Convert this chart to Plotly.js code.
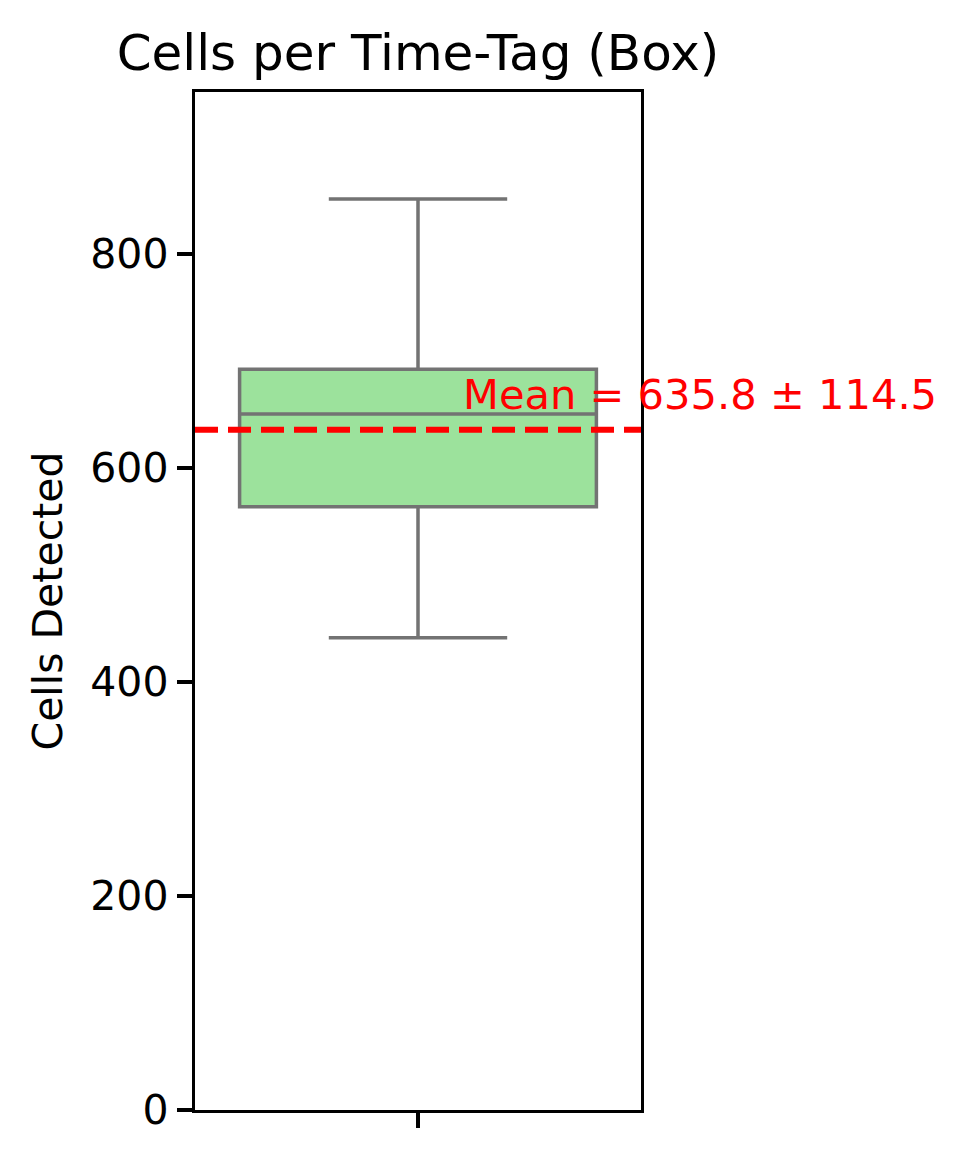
<!DOCTYPE html>
<html>
<head>
<meta charset="utf-8">
<script src="https://cdn.plot.ly/plotly-3.0.1.min.js"></script>
<style>
  html, body { margin: 0; padding: 0; background: #ffffff; }
  #chart { width: 968px; height: 1165px; }
</style>
</head>
<body>
<div id="chart"></div>
<script>
// ---- data ----
const categories = [0];            // single unnamed group
const q1Values = [563.8];
const medianValues = [650.5];
const q3Values = [692.2];
const lowerWhisker = [441.4];
const upperWhisker = [851.4];
const meanValue = 635.8;
const sdValue = 114.5;
const yTickValues = [0, 200, 400, 600, 800];
const yTickLabels = ['0', '200', '400', '600', '800'];
const xTickLabels = [''];

const FONT = 'DejaVu Sans, Liberation Sans, sans-serif';

const boxTrace = {
  type: 'box',
  x: categories,
  q1: q1Values,
  median: medianValues,
  q3: q3Values,
  lowerfence: lowerWhisker,
  upperfence: upperWhisker,
  width: 0.8,
  whiskerwidth: 0.5,
  fillcolor: '#9ce29c',
  line: { color: '#737373', width: 3.5 },
  boxpoints: false,
  hoverinfo: 'skip',
  showlegend: false
};

const layout = {
  width: 968,
  height: 1165,
  paper_bgcolor: '#ffffff',
  plot_bgcolor: '#ffffff',
  margin: { l: 195, r: 327, t: 92, b: 55, pad: 0 },
  font: { family: FONT, color: '#000000', size: 41 },
  showlegend: false,
  title: {
    text: 'Cells per Time-Tag (Box)',
    font: { family: FONT, size: 50, color: '#000000' },
    x: 0.5,
    xanchor: 'center',
    xref: 'paper',
    yref: 'paper',
    y: 1,
    yanchor: 'bottom',
    pad: { b: 22 }
  },
  xaxis: {
    range: [-0.5, 0.5],
    tickvals: categories,
    ticktext: xTickLabels,
    ticks: 'outside',
    ticklen: 15,
    tickwidth: 3.3,
    tickcolor: '#000000',
    showline: true,
    linecolor: '#000000',
    linewidth: 3.3,
    mirror: true,
    showgrid: false,
    zeroline: false,
    fixedrange: true
  },
  yaxis: {
    range: [0, 951.4],
    tickvals: yTickValues,
    ticktext: yTickLabels,
    ticks: 'outside',
    ticklen: 15,
    tickwidth: 3.3,
    tickcolor: '#000000',
    tickfont: { family: FONT, size: 41, color: '#000000' },
    showline: true,
    linecolor: '#000000',
    linewidth: 3.3,
    mirror: true,
    showgrid: false,
    zeroline: false,
    fixedrange: true,
    title: {
      text: 'Cells Detected',
      font: { family: FONT, size: 41, color: '#000000' },
      standoff: 16
    }
  },
  shapes: [{
    type: 'line',
    xref: 'paper',
    yref: 'y',
    x0: 0, x1: 1,
    y0: meanValue, y1: meanValue,
    layer: 'above',
    line: { color: '#ff0000', width: 6, dash: '23px,10px' }
  }],
  annotations: [{
    text: 'Mean = ' + meanValue.toFixed(1) + ' \u00b1 ' + sdValue.toFixed(1),
    xref: 'x', yref: 'y',
    x: 0.096, y: meanValue + 8,
    xanchor: 'left', yanchor: 'bottom',
    showarrow: false,
    font: { family: FONT, size: 41.6, color: '#ff0000' }
  }]
};

Plotly.newPlot('chart', [boxTrace], layout, { staticPlot: true, displayModeBar: false });
</script>
</body>
</html>
